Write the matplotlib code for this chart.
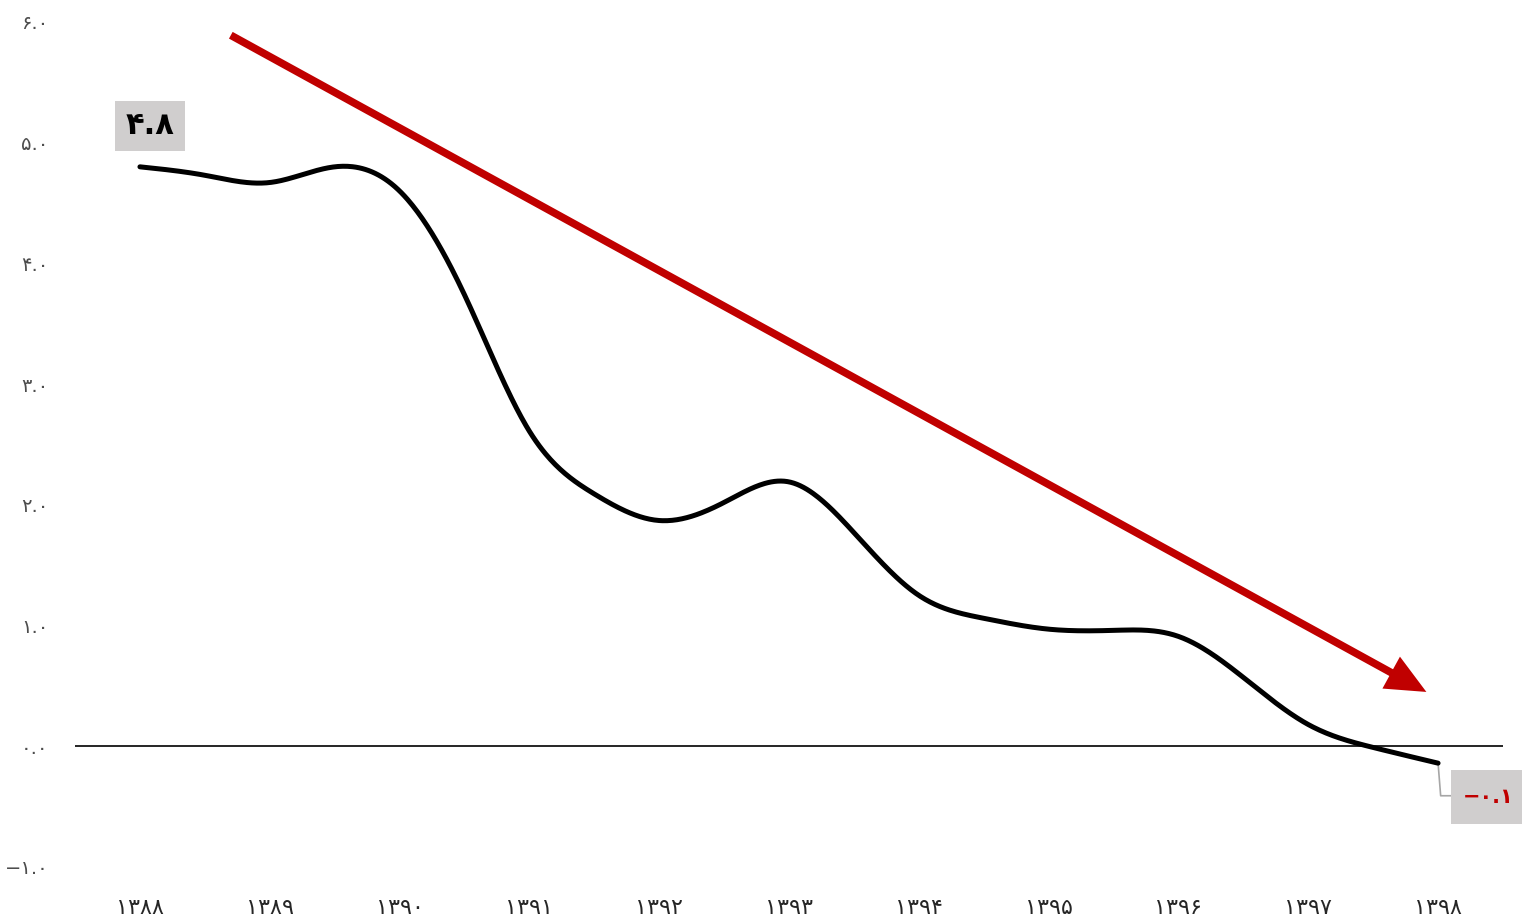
import numpy as np
import matplotlib

matplotlib.use("Agg")
import matplotlib.pyplot as plt  # noqa: E402
from matplotlib.patches import Rectangle  # noqa: E402

# half-year readings of the curve (1388 .. 1398)
years = [1388, 1389, 1390, 1391, 1392, 1393, 1394, 1395, 1396, 1397, 1398]
year_labels = ["۱۳۸۸", "۱۳۸۹", "۱۳۹۰", "۱۳۹۱", "۱۳۹۲", "۱۳۹۳",
               "۱۳۹۴", "۱۳۹۵", "۱۳۹۶", "۱۳۹۷", "۱۳۹۸"]
t_points = [1388.0, 1388.5, 1389.0, 1389.5, 1390.0, 1390.5, 1391.0, 1391.5,
            1392.0, 1392.5, 1393.0, 1393.5, 1394.0, 1394.5, 1395.0, 1395.5,
            1396.0, 1396.5, 1397.0, 1397.5, 1398.0]
values = [4.80, 4.73, 4.67, 4.80, 4.60, 3.74, 2.61, 2.09, 1.87, 2.02, 2.19,
          1.77, 1.25, 1.06, 0.97, 0.96, 0.91, 0.57, 0.18, -0.01, -0.14]
y_ticks = [-1, 0, 1, 2, 3, 4, 5, 6]
y_tick_labels = ["−۱.۰", "۰.۰", "۱.۰", "۲.۰", "۳.۰", "۴.۰", "۵.۰", "۶.۰"]
first_label = "۴.۸"
last_label = "−۰.۱"

RED = "#C00000"
BOX = "#D0CECE"


def natural_spline(x, y, n=40):
    """Natural cubic spline through the points, sampled densely for drawing."""
    x = np.asarray(x, float)
    y = np.asarray(y, float)
    k = len(x)
    h = np.diff(x)
    A = np.zeros((k, k))
    b = np.zeros(k)
    A[0, 0] = A[-1, -1] = 1.0
    for i in range(1, k - 1):
        A[i, i - 1] = h[i - 1]
        A[i, i] = 2 * (h[i - 1] + h[i])
        A[i, i + 1] = h[i]
        b[i] = 3 * ((y[i + 1] - y[i]) / h[i] - (y[i] - y[i - 1]) / h[i - 1])
    c = np.linalg.solve(A, b)
    xs, ys = [], []
    for i in range(k - 1):
        bi = (y[i + 1] - y[i]) / h[i] - h[i] * (2 * c[i] + c[i + 1]) / 3
        di = (c[i + 1] - c[i]) / (3 * h[i])
        t = np.linspace(0, h[i], n, endpoint=False)
        xs.extend(x[i] + t)
        ys.extend(y[i] + bi * t + c[i] * t ** 2 + di * t ** 3)
    xs.append(x[-1])
    ys.append(y[-1])
    return np.array(xs), np.array(ys)


fig = plt.figure(figsize=(15.22, 9.23), dpi=100)
ax = fig.add_axes([0.0493, 0.0607, 0.9382, 0.9155])

sx, sy = natural_spline(t_points, values)
ax.plot(sx, sy, color="black", lw=3.6, solid_capstyle="round", zorder=3)
ax.axhline(0, color="black", lw=1.2, zorder=2)

# trend arrow
ax.annotate("", xy=(1397.91, 0.45), xytext=(1388.70, 5.89),
            arrowprops=dict(arrowstyle="-|>,head_length=0.75,head_width=0.34",
                            lw=5.5, color=RED, shrinkA=0, shrinkB=0,
                            mutation_scale=26, capstyle="butt",
                            joinstyle="miter"),
            zorder=4)

# value labels
ax.text(1388.08, 5.14, first_label, ha="center", va="center", fontsize=22,
        fontweight="bold", color="black", zorder=5,
        bbox=dict(boxstyle="square,pad=0.35", fc=BOX, ec="none"))
ax.plot([t_points[-1], t_points[-1] + 0.02, t_points[-1] + 0.1],
        [values[-1], -0.41, -0.41], color="#A6A6A6", lw=1.2, zorder=2,
        clip_on=False)
ax.add_patch(Rectangle((1398.10, -0.646), 0.56, 0.447, fc=BOX, ec="none",
                       clip_on=False, zorder=4))
ax.text(1398.585, -0.42, last_label, ha="right", va="center", fontsize=15,
        fontweight="bold", color=RED, zorder=5, clip_on=False)

ax.set_xlim(1387.5, 1398.5)
ax.set_ylim(-1, 6)
ax.set_xticks(years)
ax.set_xticklabels(year_labels, fontsize=16, color="#262626")
ax.set_yticks(y_ticks)
ax.set_yticklabels(y_tick_labels, fontsize=14, color="#4D4D4D")
ax.tick_params(axis="both", length=0)
ax.tick_params(axis="x", pad=22)
ax.tick_params(axis="y", pad=19)
for sp in ax.spines.values():
    sp.set_visible(False)

fig.savefig("out.png", dpi=100)
